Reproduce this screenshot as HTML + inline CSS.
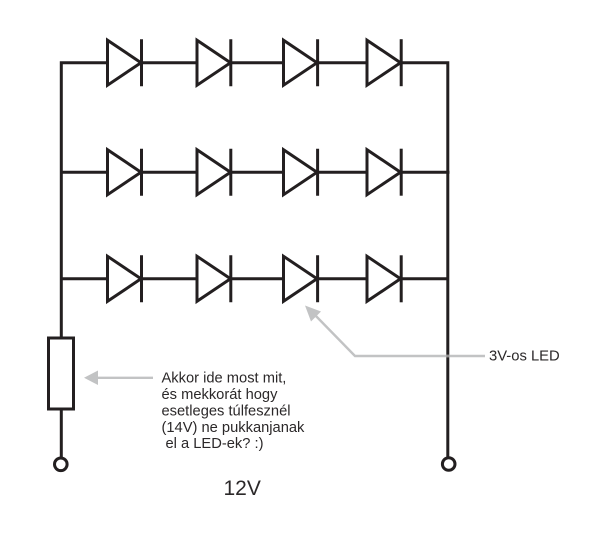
<!DOCTYPE html>
<html>
<head>
<meta charset="utf-8">
<style>
html,body{margin:0;padding:0;background:#fff;width:600px;height:538px;overflow:hidden}
svg{display:block}
text{font-family:"Liberation Sans",sans-serif;fill:#2b2829}
</style>
</head>
<body>
<svg width="600" height="538" viewBox="0 0 600 538" xmlns="http://www.w3.org/2000/svg">
<defs>
<g id="d" fill="none" stroke="#231f20" stroke-width="3">
<path d="M107.5 -22.5V22.5L141 0Z" stroke-miterlimit="10"/>
<path d="M141.5 -23.5V23.5M196.8 0H141.5" />
<path d="M197 -22.5V22.5L230.5 0Z" stroke-miterlimit="10"/>
<path d="M230.8 -23.5V23.5M283.5 0H230.8"/>
<path d="M283.5 -22.5V22.5L317 0Z" stroke-miterlimit="10"/>
<path d="M317.6 -23.5V23.5M367 0H317.6"/>
<path d="M367 -22.5V22.5L400.5 0Z" stroke-miterlimit="10"/>
<path d="M401.2 -23.5V23.5"/>
</g>
</defs>
<use href="#d" y="62.7"/>
<use href="#d" y="172.2"/>
<use href="#d" y="278.8"/>
<g fill="none" stroke="#231f20" stroke-width="3">
<path d="M107 62.7H61.3V337.5"/>
<path d="M61.3 172.2H107M61.3 278.8H107"/>
<path d="M401 62.7H447.8V458"/>
<path d="M401 172.2H449.5M401 278.8H447.8"/>
<rect x="48.5" y="338" width="25" height="71"/>
<path d="M61.3 409V458"/>
<circle cx="60.8" cy="464.3" r="6.3"/>
<circle cx="448.7" cy="464" r="6.3"/>
</g>
<g fill="none" stroke="#c2c3c4" stroke-width="2.4">
<path d="M153 377.8H95"/>
<path d="M485 356H355L313 313"/>
</g>
<path d="M84 377.8L98 370.5V385Z" fill="#c2c3c4"/>
<path d="M305 305.5L321 311.5L311 321.5Z" fill="#c2c3c4"/>
<path d="M446.3 354.8h3v2.4h-3z" fill="#8f8d8d"/>
<g font-size="14.7">
<text x="161.5" y="382.3">Akkor ide most mit,</text>
<text x="161.5" y="399">és mekkorát hogy</text>
<text x="161.5" y="415.6">esetleges túlfesznél</text>
<text x="161.5" y="431.8">(14V) ne pukkanjanak</text>
<text x="165.5" y="448">el a LED-ek? :)</text>
</g>
<text x="489" y="360.6" font-size="14.8">3V-os LED</text>
<text x="223.5" y="495" font-size="21">12V</text>
</svg>
</body>
</html>
